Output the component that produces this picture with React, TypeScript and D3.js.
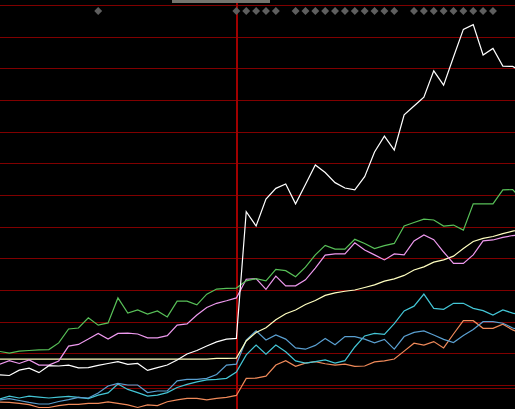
import React from "react";
import * as d3 from "d3";

const W = 515;
const H = 409;

const gridValues = [0, 1, 2, 3, 4, 5, 6, 7, 8, 9, 10, 11, 12];
const baseValue = -0.1;
const markerIdx = [10, 24, 25, 26, 27, 28, 30, 31, 32, 33, 34, 35, 36, 37, 38, 39, 40, 42, 43, 44, 45, 46, 47, 48, 49, 50];
const eventIdx = 24;
const scrollRange = [17.5, 27.4];

const whiteSeries = [0.32, 0.30, 0.47, 0.53, 0.39, 0.61, 0.60, 0.63, 0.54, 0.55, 0.62, 0.68, 0.74, 0.65, 0.68, 0.46, 0.55, 0.63, 0.79, 0.98, 1.09, 1.23, 1.36, 1.45, 1.47,
  5.47, 5.02, 5.87, 6.21, 6.35, 5.72, 6.33, 6.95, 6.71, 6.39, 6.22, 6.16, 6.58, 7.36, 7.86, 7.42, 8.53, 8.81, 9.09, 9.92, 9.47, 10.36, 11.23, 11.38, 10.42, 10.63, 10.07, 10.06, 9.88];
const greenSeries = [1.06, 1.01, 1.07, 1.09, 1.11, 1.12, 1.33, 1.77, 1.80, 2.12, 1.89, 1.96, 2.75, 2.27, 2.37, 2.24, 2.34, 2.15, 2.65, 2.65, 2.53, 2.87, 3.03, 3.05, 3.06,
  3.29, 3.36, 3.29, 3.65, 3.61, 3.42, 3.72, 4.11, 4.41, 4.29, 4.29, 4.60, 4.47, 4.31, 4.40, 4.47, 5.02, 5.13, 5.24, 5.21, 5.02, 5.05, 4.89, 5.72, 5.72, 5.72, 6.16, 6.17, 5.84];
const pinkSeries = [0.65, 0.77, 0.68, 0.79, 0.63, 0.63, 0.76, 1.23, 1.28, 1.45, 1.63, 1.45, 1.63, 1.64, 1.61, 1.49, 1.49, 1.56, 1.89, 1.93, 2.21, 2.45, 2.58, 2.66, 2.75,
  3.34, 3.36, 3.02, 3.44, 3.13, 3.13, 3.32, 3.69, 4.10, 4.14, 4.14, 4.49, 4.26, 4.11, 3.95, 4.14, 4.11, 4.55, 4.74, 4.59, 4.20, 3.84, 3.84, 4.11, 4.55, 4.58, 4.66, 4.72, 4.74];
const yellowSeries = [0.82, 0.82, 0.82, 0.82, 0.82, 0.82, 0.82, 0.82, 0.82, 0.82, 0.82, 0.82, 0.82, 0.82, 0.82, 0.82, 0.82, 0.82, 0.82, 0.82, 0.82, 0.82, 0.84, 0.84, 0.85,
  1.39, 1.66, 1.81, 2.06, 2.25, 2.37, 2.54, 2.67, 2.83, 2.91, 2.96, 3.00, 3.08, 3.16, 3.28, 3.35, 3.46, 3.63, 3.73, 3.88, 3.95, 4.07, 4.31, 4.53, 4.63, 4.69, 4.78, 4.86, 4.93];
const steelSeries = [-0.47, -0.43, -0.49, -0.55, -0.60, -0.60, -0.52, -0.46, -0.39, -0.41, -0.25, -0.03, 0.05, 0.00, 0.00, -0.24, -0.19, -0.19, 0.13, 0.18, 0.18, 0.21, 0.33, 0.63, 0.66,
  1.42, 1.71, 1.42, 1.58, 1.45, 1.17, 1.13, 1.25, 1.47, 1.27, 1.53, 1.53, 1.45, 1.33, 1.44, 1.13, 1.53, 1.66, 1.71, 1.58, 1.44, 1.34, 1.56, 1.75, 2.00, 2.00, 1.95, 1.80, 1.71];
const cyanSeries = [-0.44, -0.35, -0.41, -0.35, -0.38, -0.41, -0.38, -0.36, -0.39, -0.43, -0.32, -0.25, 0.03, -0.14, -0.24, -0.35, -0.32, -0.24, -0.08, 0.02, 0.10, 0.16, 0.18, 0.21, 0.41,
  0.95, 1.26, 0.97, 1.26, 1.05, 0.76, 0.69, 0.74, 0.79, 0.69, 0.77, 1.20, 1.55, 1.63, 1.60, 1.94, 2.34, 2.49, 2.87, 2.42, 2.39, 2.58, 2.58, 2.42, 2.35, 2.21, 2.37, 2.27, 2.21];
const orangeSeries = [-0.54, -0.55, -0.58, -0.62, -0.71, -0.71, -0.65, -0.61, -0.61, -0.58, -0.58, -0.53, -0.58, -0.63, -0.71, -0.63, -0.65, -0.53, -0.47, -0.42, -0.42, -0.47, -0.42, -0.39, -0.33,
  0.21, 0.22, 0.28, 0.63, 0.77, 0.59, 0.69, 0.74, 0.67, 0.63, 0.66, 0.59, 0.60, 0.73, 0.76, 0.82, 1.07, 1.32, 1.26, 1.37, 1.17, 1.61, 2.03, 2.03, 1.79, 1.79, 1.92, 1.74, 1.61];

const seriesList = [
  { name: "orange", values: orangeSeries, color: "#f08a5a" },
  { name: "cyan", values: cyanSeries, color: "#44c6d6" },
  { name: "steel", values: steelSeries, color: "#5a9fd0" },
  { name: "yellow", values: yellowSeries, color: "#ffffc0" },
  { name: "pink", values: pinkSeries, color: "#ee99ee" },
  { name: "green", values: greenSeries, color: "#58c058" },
  { name: "white", values: whiteSeries, color: "#ffffff" },
];

export default function App() {
  React.useEffect(() => {
    document.body.style.margin = "0";
    document.body.style.background = "#000";
  }, []);

  const x = d3.scaleLinear().domain([0, 52]).range([-0.5, 512.7]);
  const y = d3.scaleLinear().domain([0, 12]).range([385, 5]);

  const line = d3
    .line<number>()
    .x((_, i) => x(i))
    .y((d) => y(d));

  const diamond = d3.symbol().type(d3.symbolDiamond2).size(40)();
  const gy = (v: number) => Math.round(y(v)) + 0.5;

  return (
    <svg
      width={W}
      height={H}
      style={{ position: "absolute", left: 0, top: 0, background: "#000", display: "block" }}
    >
      <rect x={0} y={0} width={W} height={H} fill="#000" />
      <g shapeRendering="crispEdges">
        {gridValues.map((v) => (
          <line key={v} x1={0} x2={W} y1={gy(v)} y2={gy(v)} stroke="#800000" strokeWidth={1} />
        ))}
        <line x1={0} x2={W} y1={gy(baseValue)} y2={gy(baseValue)} stroke="#800000" strokeWidth={1} />
        <rect x={Math.round(x(eventIdx))} y={0} width={2} height={H} fill="#a00000" />
        <rect x={Math.round(x(scrollRange[0]))} y={0} width={Math.round(x(scrollRange[1]) - x(scrollRange[0]))} height={3} fill="#74746e" />
      </g>
      {markerIdx.map((i) => (
        <path key={i} d={diamond} transform={`translate(${x(i)},11)`} fill="#5e5e5e" />
      ))}
      {seriesList.map((s) => (
        <path key={s.name} d={line(s.values) || ""} fill="none" stroke={s.color} strokeWidth={1.2} strokeLinejoin="miter" />
      ))}
    </svg>
  );
}
